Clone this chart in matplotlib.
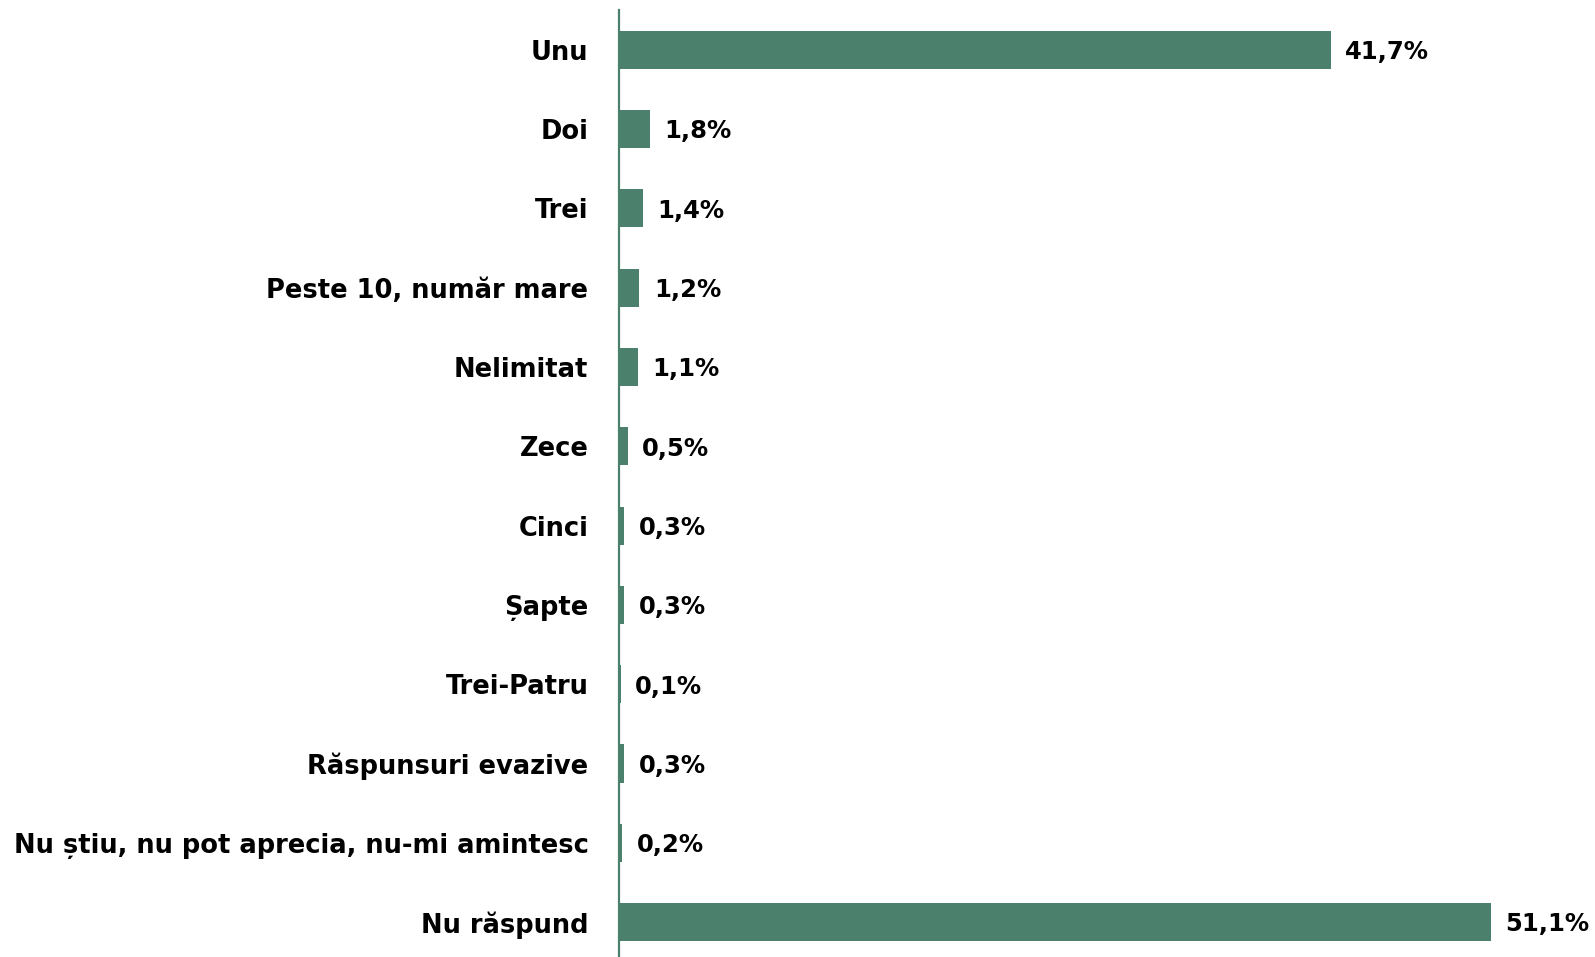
import matplotlib
matplotlib.use("Agg")
from matplotlib import pyplot as plt

categories = ["Unu", "Doi", "Trei", "Peste 10, număr mare", "Nelimitat", "Zece",
              "Cinci", "Șapte", "Trei-Patru", "Răspunsuri evazive",
              "Nu știu, nu pot aprecia, nu-mi amintesc", "Nu răspund"]
values = [41.7, 1.8, 1.4, 1.2, 1.1, 0.5, 0.3, 0.3, 0.1, 0.3, 0.2, 51.1]

GREEN = "#4a806c"
plt.rcParams['font.family'] = ['DejaVu Sans']

fig = plt.figure(figsize=(15.95, 9.57), dpi=100)
ax = fig.add_axes([619 / 1595, 0, 1 - 619 / 1595, 1 - 10 / 957])

y = list(range(len(categories)))
ax.barh(y, values, height=0.48, color=GREEN)

for yi, v in zip(y, values):
    ax.text(v + 0.85, yi + 0.03, f"{v:.1f}%".replace(".", ","), va="center", ha="left",
            fontsize=17.5, fontweight="bold", color="black")

ax.set_yticks(y)
ax.set_yticklabels(categories, fontsize=18.5, fontweight="bold")
ax.tick_params(axis="y", length=0, pad=22)
ax.tick_params(axis="x", bottom=False, labelbottom=False)
ax.set_xlim(0, 57.2)
ax.set_ylim(11.44, -0.5)

for s in ["top", "right", "bottom"]:
    ax.spines[s].set_visible(False)
ax.spines["left"].set_color(GREEN)
ax.spines["left"].set_linewidth(1.6)

plt.savefig("out.png", dpi=100)
